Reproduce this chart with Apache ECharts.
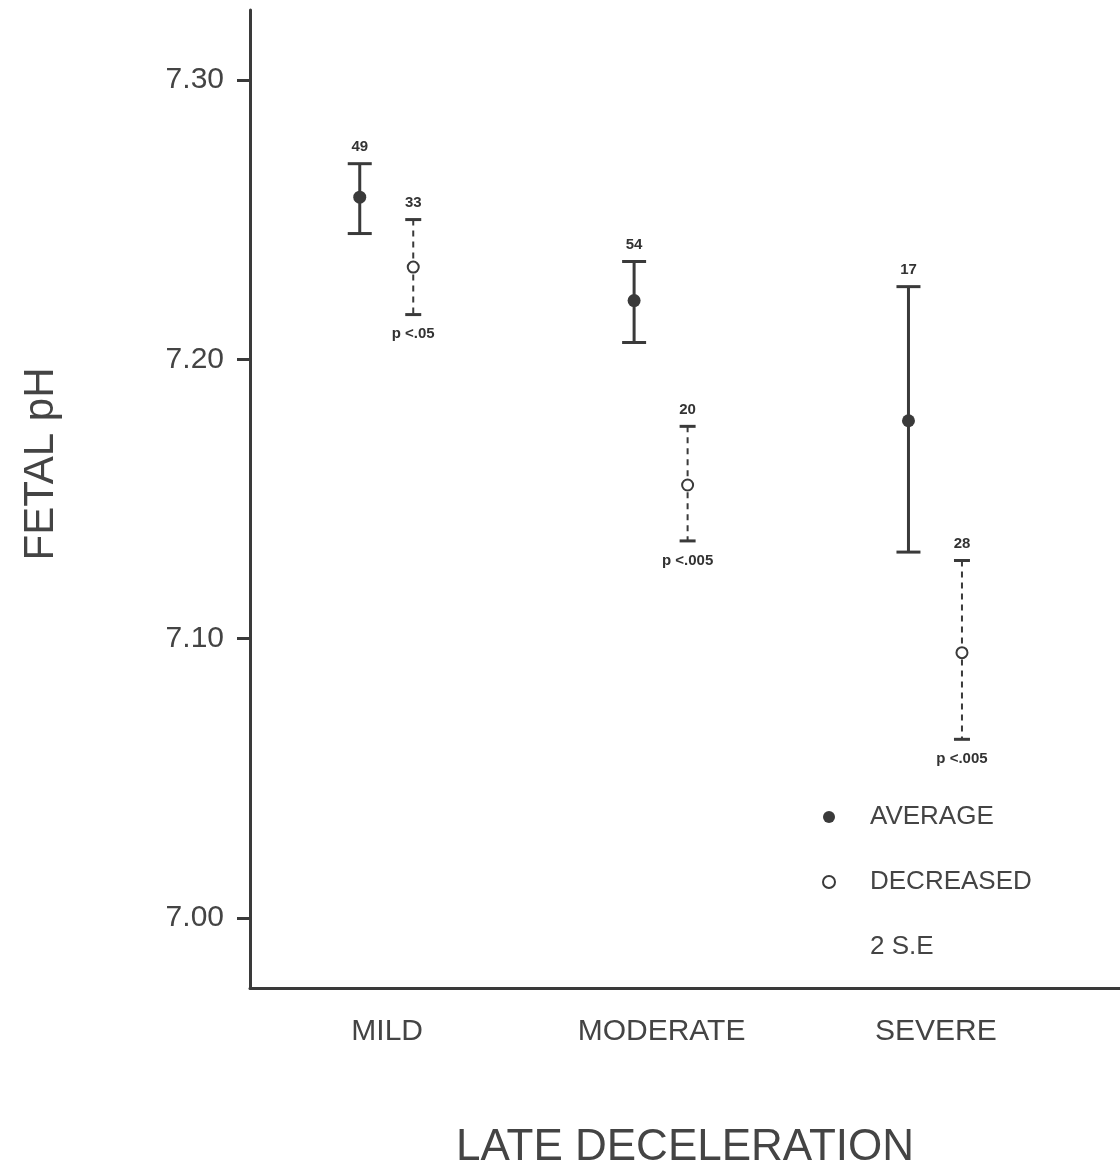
<!DOCTYPE html>
<html>
<head>
<meta charset="utf-8">
<script src="https://cdn.jsdelivr.net/npm/echarts@6/dist/echarts.min.js"></script>
<style>
  html, body { margin: 0; background: #fff; }
  #chart { width: 1120px; height: 1170px; }
</style>
</head>
<body>
<div id="chart"></div>
<script>
// data
var categories = ['MILD', 'MODERATE', 'SEVERE'];
var yTicks = [7.00, 7.10, 7.20, 7.30];

var avgMean = [7.258, 7.221, 7.178];
var avgLow  = [7.245, 7.206, 7.131];
var avgHigh = [7.270, 7.235, 7.226];
var avgN    = [49, 54, 17];

var decMean = [7.233, 7.155, 7.095];
var decLow  = [7.216, 7.135, 7.064];
var decHigh = [7.250, 7.176, 7.128];
var decN    = [33, 20, 28];
var decP    = ['p <.05', 'p <.005', 'p <.005'];

var ink = '#3a3a3a';
var catPos = [0.5, 1.5, 2.5];

function pts(mean, off) {
  return mean.map(function (v, i) { return [catPos[i] + off, v]; });
}
function bars(low, high, off) {
  return low.map(function (v, i) { return [catPos[i] + off, v, high[i]]; });
}

function errorBar(dashed, capW, nArr, pArr) {
  return function (params, api) {
    var x = api.value(0);
    var top = api.coord([x, api.value(2)]);
    var bot = api.coord([x, api.value(1)]);
    var i = params.dataIndex;
    var kids = [
      { type: 'line', shape: { x1: top[0], y1: top[1], x2: bot[0], y2: bot[1] },
        style: { stroke: ink, lineWidth: dashed ? 2 : 3, lineDash: dashed ? [6, 5] : null } },
      { type: 'line', shape: { x1: top[0] - capW / 2, y1: top[1], x2: top[0] + capW / 2, y2: top[1] },
        style: { stroke: ink, lineWidth: 3 } },
      { type: 'line', shape: { x1: bot[0] - capW / 2, y1: bot[1], x2: bot[0] + capW / 2, y2: bot[1] },
        style: { stroke: ink, lineWidth: 3 } },
      { type: 'text', style: { text: String(nArr[i]), x: top[0], y: top[1] - 9,
        align: 'center', verticalAlign: 'bottom', font: 'bold 15px "Liberation Sans"', fill: '#333' } }
    ];
    if (pArr) {
      kids.push({ type: 'text', style: { text: pArr[i], x: bot[0], y: bot[1] + 12,
        align: 'center', verticalAlign: 'top', font: 'bold 15px "Liberation Sans"', fill: '#333' } });
    }
    return { type: 'group', children: kids };
  };
}

var chart = echarts.init(document.getElementById('chart'));
chart.setOption({
  backgroundColor: '#fff',
  animation: false,
  textStyle: { fontFamily: 'Liberation Sans' },
  grid: { left: 250, right: 0, top: 10, bottom: 182, outerBoundsMode: 'none' },
  legend: {
    left: 788, top: 797, orient: 'vertical',
    itemWidth: 72, itemHeight: 12, itemGap: 35,
    textStyle: { fontSize: 26, color: '#444', lineHeight: 30 },
    data: [
      { name: 'AVERAGE' },
      { name: 'DECREASED' },
      { name: '2 S.E', icon: 'none' }
    ]
  },
  xAxis: {
    type: 'value', min: 0, max: 3.171,
    name: 'LATE DECELERATION', nameLocation: 'middle', nameGap: 138,
    nameTextStyle: { fontSize: 44, color: '#444' },
    axisLine: { show: true, lineStyle: { color: ink, width: 3 } },
    axisTick: { show: false },
    splitLine: { show: false },
    axisLabel: {
      customValues: catPos, margin: 29, fontSize: 30, color: '#444',
      formatter: function (v) { return categories[Math.round(v - 0.5)]; }
    }
  },
  yAxis: {
    type: 'value', min: 6.975, max: 7.325,
    name: 'FETAL pH', nameLocation: 'middle', nameGap: 188, nameRotate: 90,
    nameTextStyle: { fontSize: 42, color: '#444', padding: [0, 0, 0, 70] },
    axisLine: { show: true, lineStyle: { color: ink, width: 3 } },
    axisTick: { show: true, customValues: yTicks, length: 13, lineStyle: { color: ink, width: 3 } },
    splitLine: { show: false },
    axisLabel: {
      customValues: yTicks, margin: 26, fontSize: 30, color: '#444',
      formatter: function (v) { return v.toFixed(2); }
    }
  },
  series: [
    { name: '2 S.E', type: 'custom', renderItem: errorBar(false, 24, avgN, null),
      data: bars(avgLow, avgHigh, -0.1), encode: { x: 0, y: [1, 2] }, z: 1 },
    { name: '2 S.E', type: 'custom', renderItem: errorBar(true, 16, decN, decP),
      data: bars(decLow, decHigh, 0.095), encode: { x: 0, y: [1, 2] }, z: 1 },
    { name: 'AVERAGE', type: 'scatter', symbol: 'circle', symbolSize: 13,
      itemStyle: { color: '#3a3a3a', opacity: 1 }, data: pts(avgMean, -0.1), z: 3 },
    { name: 'DECREASED', type: 'scatter', symbol: 'circle', symbolSize: 11,
      itemStyle: { color: '#fff', borderColor: '#3a3a3a', borderWidth: 2, opacity: 1 },
      data: pts(decMean, 0.095), z: 3 }
  ]
});
</script>
</body>
</html>
